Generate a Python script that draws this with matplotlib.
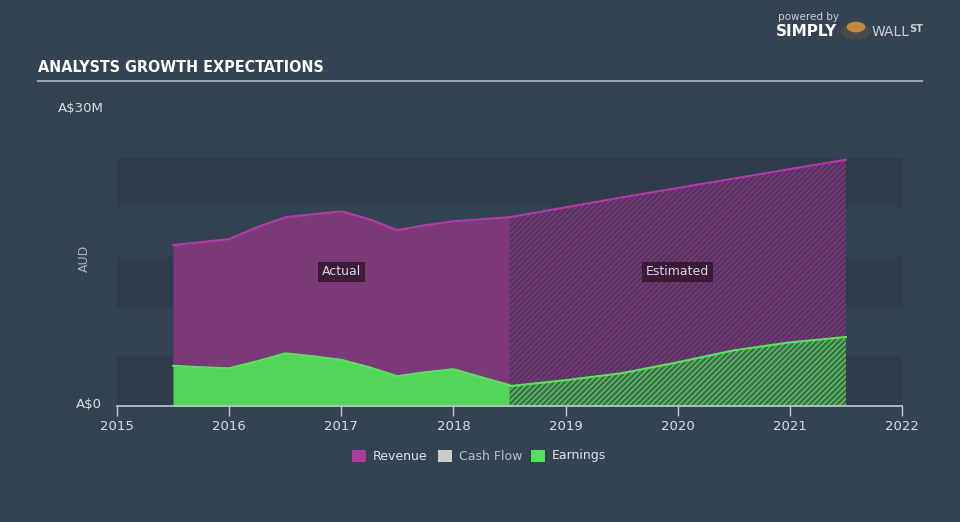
import matplotlib
matplotlib.use('Agg')
import matplotlib.pyplot as plt
from matplotlib.patches import Rectangle

# datos (millones de AUD)
act_x = [2015.5, 2015.75, 2016, 2016.25, 2016.5, 2016.75, 2017, 2017.25, 2017.5, 2017.75, 2018, 2018.25, 2018.5]
act_revenue = [16.2, 16.5, 16.8, 18.0, 19.0, 19.3, 19.6, 18.8, 17.7, 18.2, 18.6, 18.8, 19.0]
act_earnings = [4.05, 3.9, 3.8, 4.5, 5.3, 5.0, 4.65, 3.9, 3.0, 3.4, 3.7, 2.9, 2.1]

est_x = [2018.5, 2019, 2019.5, 2020, 2020.5, 2021, 2021.5]
est_revenue = [19.0, 20.0, 21.0, 21.95, 22.9, 23.85, 24.8]
est_earnings = [2.0, 2.6, 3.3, 4.4, 5.6, 6.4, 6.95]

years = [2015, 2016, 2017, 2018, 2019, 2020, 2021, 2022]
legend_names = ['Revenue', 'Cash Flow', 'Earnings']

bg = '#344353'
band = '#2f3c4b'
rev_fill = '#7b3a77'
rev_line = '#b53aa9'
rev_est = '#583260'
earn_fill = '#51d657'
earn_line = '#5ce35e'
earn_est = '#3e6f4b'

plt.rcParams['hatch.linewidth'] = 1.0

fig = plt.figure(figsize=(9.6, 5.22), dpi=100, facecolor=bg)
ax = fig.add_axes([117 / 960, 1 - 406 / 522, 785 / 960, 298 / 522])
ax.set_facecolor(bg)
ax.set_xlim(2015, 2022)
ax.set_ylim(0, 30)

# bandas horizontales
for lo in [0, 10, 20]:
    ax.axhspan(lo, lo + 5, color=band, zorder=0, lw=0)

# revenue
ax.fill_between(act_x, 0, act_revenue, color=rev_fill, lw=0, zorder=1)
ax.plot(act_x, act_revenue, color=rev_line, lw=1.5, zorder=3)
ax.fill_between(est_x, 0, est_revenue, facecolor=rev_est, edgecolor='#7a3d7c',
                hatch='//////', lw=0, zorder=1)
ax.plot(est_x, est_revenue, color=rev_line, lw=1.5, zorder=3)

# earnings
ax.fill_between(act_x, 0, act_earnings, color=earn_fill, lw=0, zorder=2)
ax.plot(act_x, act_earnings, color=earn_line, lw=1.5, zorder=3)
ax.fill_between(est_x, 0, est_earnings, facecolor=earn_est, edgecolor='#5cc85f',
                hatch='//////', lw=0, zorder=2)
ax.plot(est_x, est_earnings, color=earn_line, lw=1.5, zorder=3)

# etiquetas Actual / Estimated
box = dict(boxstyle='square,pad=0.3', fc='#3a1b38', ec='none')
ax.text(2017, 13.5, 'Actual', color='#e0d6df', fontsize=9, ha='center', va='center', bbox=box, zorder=5)
ax.text(2020, 13.5, 'Estimated', color='#e0d6df', fontsize=9, ha='center', va='center', bbox=box, zorder=5)

# ejes
for s in ['top', 'right', 'left']:
    ax.spines[s].set_visible(False)
ax.spines['bottom'].set_color('#c3cad2')
ax.spines['bottom'].set_linewidth(1.2)
ax.set_xticks(years)
ax.set_xticklabels([str(y) for y in years])
ax.tick_params(axis='x', colors='#c3cad2', length=7, width=1, direction='out', labelsize=9.5,
               labelcolor='#d8dde2', pad=3)
ax.set_yticks([])

# textos del eje y
fig.text(58 / 960, 1 - 108 / 522, 'A$30M', color='#d8dde2', fontsize=9.5, ha='left', va='center')
fig.text(102 / 960, 1 - 404 / 522, 'A$0', color='#d8dde2', fontsize=9.5, ha='right', va='center')
fig.text(84 / 960, 1 - 258 / 522, 'AUD', color='#aab3bc', fontsize=9, rotation=90, ha='center', va='center')

# titulo
fig.text(38 / 960, 1 - 68 / 522, 'ANALYSTS GROWTH EXPECTATIONS', color='white', fontsize=11.5,
         fontweight='bold', fontstretch='condensed', family=['DejaVu Sans'], ha='left', va='center')
fig.add_artist(plt.Line2D([38 / 960, 922 / 960], [1 - 81 / 522, 1 - 81 / 522], color='#9aa3ad', lw=1.5))

# logo
fig.text(778 / 960, 1 - 17 / 522, 'powered by', color='#c8ced4', fontsize=7.5, ha='left', va='center')
fig.text(776 / 960, 1 - 32 / 522, 'SIMPLY', color='white', fontsize=11, fontweight='bold', ha='left', va='center')
fig.text(872 / 960, 1 - 32 / 522, 'WALL', color='#c8ced4', fontsize=10, ha='left', va='center')
fig.text(909 / 960, 1 - 29 / 522, 'ST', color='#c8ced4', fontsize=7, fontweight='bold', ha='left', va='center')
fig.add_artist(plt.Circle((856 / 960, 1 - 31 / 522), 0.015, transform=fig.transFigure, color='#4a4a4a'))
fig.add_artist(plt.Circle((856 / 960, 1 - 27 / 522), 0.009, transform=fig.transFigure, color='#c08a3a'))

# leyenda
leg_colors = ['#a83ca0', '#cccccc', '#4fe35a']
leg_x = [352, 438, 531]
for name, c, lx in zip(legend_names, leg_colors, leg_x):
    fig.add_artist(Rectangle((lx / 960, 1 - 462 / 522), 14 / 960, 12 / 522, transform=fig.transFigure,
                             color=c, lw=0))
    fig.text((lx + 21) / 960, 1 - 456 / 522, name, color='#dfe3e7' if name != 'Cash Flow' else '#b9c0c7',
             fontsize=9, ha='left', va='center')

fig.savefig('out.png', dpi=100, facecolor=bg)
